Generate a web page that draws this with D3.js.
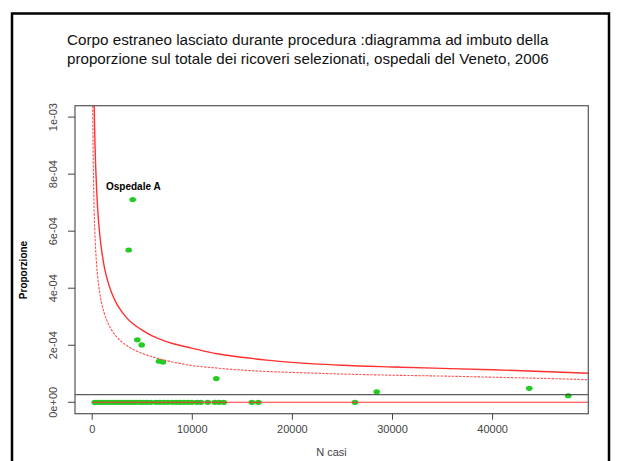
<!DOCTYPE html>
<html>
<head>
<meta charset="utf-8">
<script src="https://cdn.jsdelivr.net/npm/d3@7"></script>
<style>
  html, body { margin: 0; padding: 0; background: #fff; }
  svg { display: block; }
  text { font-family: "Liberation Sans", Arial, sans-serif; }
</style>
</head>
<body>
<svg id="chart" width="620" height="461"></svg>
<script>
// ---- data ----
const titleLines = [
  "Corpo estraneo lasciato durante procedura :diagramma ad imbuto della",
  "proporzione sul totale dei ricoveri selezionati, ospedali del Veneto, 2006"
];
const xTicks = [0, 10000, 20000, 30000, 40000];
const yTicks = [0, 0.0002, 0.0004, 0.0006, 0.0008, 0.001];
const yTickLabels = ["0e+00", "2e-04", "4e-04", "6e-04", "8e-04", "1e-03"];
const xLimits = [231, 47711];
const yLimits = [0, 0.001];

// hospitals: number of cases and observed proportion
const hospN = [300, 600, 900, 1200, 1500, 1800, 2100, 2400, 2700, 3000, 3300, 3600, 3900, 4200, 4450,
               4850, 5150, 5500, 5900, 6400, 6800, 7200, 7600, 8050, 8450, 8800, 9200, 9600, 10000, 10500,
               10900, 11600, 12300, 12750, 13200, 16000, 16650, 26300,
               4096, 3696, 4555, 4995, 6723, 7123, 12448, 28472, 43716, 47612];
const hospP = [0, 0, 0, 0, 0, 0, 0, 0, 0, 0, 0, 0, 0, 0, 0,
               0, 0, 0, 0, 0, 0, 0, 0, 0, 0, 0, 0, 0, 0, 0,
               0, 0, 0, 0, 0, 0, 0, 0,
               0.000711, 0.000534, 0.000219, 0.000201, 0.000144, 0.000141, 0.000083, 0.000037, 0.000049, 0.000023];
const labelName = "Ospedale A";

// overall proportion (reference line)
const meanP = 0.0000266;

// funnel limits
const limN   = [100, 150, 200, 250, 300, 400, 500, 600, 800, 1000, 1250, 1500, 2000, 2500, 3000, 3500, 4000,
                5000, 6000, 7000, 8000, 10000, 12500, 15000, 17500, 20000, 25000, 30000, 35000, 40000, 45000, 49700];
const lim998 = [0.00162, 0.00133, 0.00115, 0.00104, 0.000947, 0.000824, 0.000739, 0.000677, 0.00059, 0.000531,
                0.000477, 0.000438, 0.000383, 0.000345, 0.000318, 0.000296, 0.000279,
                0.000254, 0.000234, 0.000219, 0.000207, 0.00019, 0.00017, 0.000158, 0.000148, 0.00014,
                0.00013, 0.000124, 0.000119, 0.000114, 0.000108, 0.000102];
const lim95  = [0.00104, 0.000852, 0.000741, 0.000666, 0.00061, 0.000532, 0.000479, 0.000439, 0.000384, 0.000346,
                0.000313, 0.000288, 0.000253, 0.000229, 0.000212, 0.000199, 0.000188,
                0.000172, 0.00016, 0.00015, 0.000142, 0.000129, 0.00012, 0.000113, 0.000108, 0.000105,
                0.000099, 0.000095, 0.000092, 0.000088, 0.000084, 0.000079];
const limLow = [0, 0, 0, 0, 0, 0, 0, 0, 0, 0, 0, 0, 0, 0, 0, 0, 0,
                0, 0, 0, 0, 0, 0, 0, 0, 0, 0, 0, 0, 0, 0, 0];

// ---- drawing ----
const svg = d3.select("#chart");
const plot = { left: 75, right: 588.3, top: 105.7, bottom: 413.7 };

function rExpand(lim) { const d = (lim[1] - lim[0]) * 0.04; return [lim[0] - d, lim[1] + d]; }
const x = d3.scaleLinear().domain(rExpand(xLimits)).range([plot.left, plot.right]);
const y = d3.scaleLinear().domain(rExpand(yLimits)).range([plot.bottom, plot.top]);

// outer frame
svg.append("rect").attr("x", 12).attr("y", 13.5).attr("width", 597).attr("height", 480)
  .attr("fill", "none").attr("stroke", "#000").attr("stroke-width", 2.5);

// title
const tg = svg.append("g");
titleLines.forEach((t, i) => {
  const el = tg.append("text").attr("x", 67).attr("y", 45 + i * 19)
    .attr("font-size", 14).attr("fill", "#111").text(t);
  const w = el.node().getComputedTextLength();
  el.attr("font-size", 14 * 482 / w);
});

// clip
svg.append("clipPath").attr("id", "clip").append("rect")
  .attr("x", plot.left).attr("y", plot.top)
  .attr("width", plot.right - plot.left).attr("height", plot.bottom - plot.top);

const g = svg.append("g").attr("clip-path", "url(#clip)");

// points
g.selectAll("ellipse.pt").data(hospN.map((n, i) => [n, hospP[i]]))
  .enter().append("ellipse").attr("class", "pt")
  .attr("cx", d => x(d[0])).attr("cy", d => y(d[1]))
  .attr("rx", 3.3).attr("ry", 2.6).attr("fill", "#22cc22");

// reference line
g.append("line").attr("x1", plot.left).attr("x2", plot.right)
  .attr("y1", y(meanP)).attr("y2", y(meanP))
  .attr("stroke", "#333").attr("stroke-width", 1);

const line = d3.line().curve(d3.curveMonotoneX);
const toPts = arr => limN.map((n, i) => [x(n), y(arr[i])]);

g.append("path").attr("d", line(toPts(lim998))).attr("fill", "none")
  .attr("stroke", "#ff3030").attr("stroke-width", 1.4);
g.append("path").attr("d", line(toPts(lim95))).attr("fill", "none")
  .attr("stroke", "#ff5050").attr("stroke-width", 1.1).attr("stroke-dasharray", "2.5,1.2");
g.append("path").attr("d", line(toPts(limLow))).attr("fill", "none")
  .attr("stroke", "#ff3030").attr("stroke-width", 1.1);

// label
svg.append("text").attr("x", 106).attr("y", 189.5)
  .attr("font-size", 10).attr("font-weight", "bold").attr("fill", "#000")
  .text(labelName);

// box
svg.append("rect").attr("x", plot.left).attr("y", plot.top)
  .attr("width", plot.right - plot.left).attr("height", plot.bottom - plot.top)
  .attr("fill", "none").attr("stroke", "#555").attr("stroke-width", 1.2);

// x axis
const xAxis = d3.axisBottom(x).tickValues(xTicks).tickFormat(d3.format("d")).tickSize(6).tickPadding(6);
const xg = svg.append("g").attr("transform", `translate(0,${plot.bottom})`).call(xAxis);
xg.select(".domain").remove();
xg.selectAll("line").attr("stroke", "#444");
xg.selectAll("text").attr("font-size", 11).attr("fill", "#444")
  .attr("font-family", "Liberation Sans, Arial, sans-serif");

// y axis
const yAxis = d3.axisLeft(y).tickValues(yTicks).tickFormat((d, i) => yTickLabels[i]).tickSize(7).tickPadding(0);
const yg = svg.append("g").attr("transform", `translate(${plot.left},0)`).call(yAxis);
yg.select(".domain").remove();
yg.selectAll("line").attr("stroke", "#444");
yg.selectAll("text").attr("font-size", 11).attr("fill", "#444")
  .attr("font-family", "Liberation Sans, Arial, sans-serif")
  .attr("text-anchor", "middle").attr("dy", null)
  .attr("transform", d => `translate(${53 - plot.left + 4},${y(d)}) rotate(-90)`)
  .attr("x", 0).attr("y", 0);
yg.selectAll(".tick").attr("transform", null);
yg.selectAll(".tick line").attr("y1", d => y(d)).attr("y2", d => y(d)).attr("x2", -7);

// axis titles
svg.append("text").attr("x", 331.5).attr("y", 455.5).attr("text-anchor", "middle")
  .attr("font-size", 11).attr("fill", "#444").text("N casi");
svg.append("text").attr("transform", "translate(26.5,270) rotate(-90)").attr("text-anchor", "middle")
  .attr("font-size", 10).attr("font-weight", "bold").attr("fill", "#000").text("Proporzione");
</script>
</body>
</html>
